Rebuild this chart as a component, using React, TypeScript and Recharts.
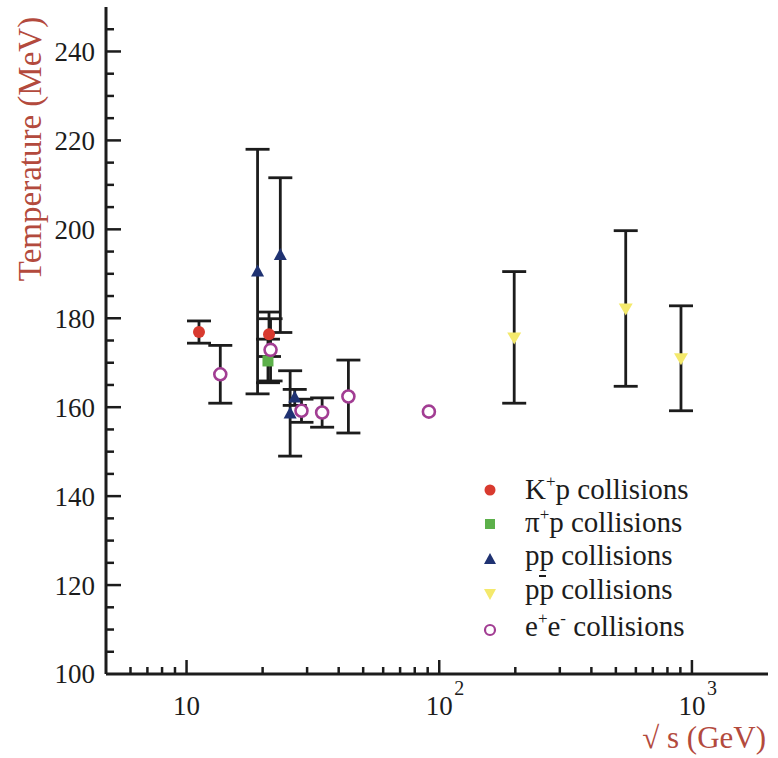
import React from 'react';
import { ScatterChart, Scatter, XAxis, YAxis, ErrorBar, Legend, Label } from 'recharts';

// Hadron-gas temperature fits vs. centre-of-mass energy (GeV)
const kpEnergy = [11.2, 21.2];
const kpTemp = [176.9, 176.4];
const kpErr = [2.5, 5.0];

const pipEnergy = [21.0];
const pipTemp = [170.4];
const pipErr = [4.9];

const ppEnergy = [19.1, 23.5, 25.7, 26.8];
const ppTemp = [190.5, 194.2, 158.6, 162.2];
const ppErr = [27.5, 17.4, 9.6, 1.8];

const ppbarEnergy = [198, 547, 905];
const ppbarTemp = [175.7, 182.2, 171.0];
const ppbarErr = [14.8, 17.5, 11.8];

const eeEnergy = [13.6, 21.5, 28.5, 34.4, 43.7, 91];
const eeTemp = [167.4, 172.9, 159.2, 158.8, 162.4, 159.0];
const eeErr = [6.5, 7.0, 2.6, 3.3, 8.2, 0];

const xTicks = [6, 7, 8, 9, 10, 20, 30, 40, 50, 60, 70, 80, 90, 100, 200, 300, 400, 500, 600, 700, 800, 900, 1000];
const xLabelValues = [10, 100, 1000];
const xLabelBase = ['10', '10', '10'];
const xLabelExp = ['', '2', '3'];

const yTicks = [100, 105, 110, 115, 120, 125, 130, 135, 140, 145, 150, 155, 160, 165, 170, 175, 180, 185, 190, 195, 200, 205, 210, 215, 220, 225, 230, 235, 240, 245];
const yLabelValues = [100, 120, 140, 160, 180, 200, 220, 240];

const legendNames = ['K+p collisions', 'π+p collisions', 'pp collisions', 'pp collisions', 'e+e- collisions'];

const SERIF = "'Liberation Serif', 'Times New Roman', serif";
const INK = '#1c1c1c';
const TITLE = '#b34a3d';
const RED = '#d83a2f';
const GREEN = '#5cb04a';
const BLUE = '#1f3272';
const YELLOW = '#f4e96c';
const MAGENTA = '#a23d93';

const toRows = (xs: number[], ys: number[], es: number[]) =>
  xs.map((x, i) => ({ x, y: ys[i], err: es[i] }));

const kpData = toRows(kpEnergy, kpTemp, kpErr);
const pipData = toRows(pipEnergy, pipTemp, pipErr);
const ppData = toRows(ppEnergy, ppTemp, ppErr);
const ppbarData = toRows(ppbarEnergy, ppbarTemp, ppbarErr);
const eeData = toRows(eeEnergy, eeTemp, eeErr);

const FilledCircle = (p: any) => <circle cx={p.cx} cy={p.cy} r={6} fill={RED} />;
const FilledSquare = (p: any) => <rect x={p.cx - 5.5} y={p.cy - 5.5} width={11} height={11} fill={GREEN} />;
const TriUp = (p: any) => (
  <polygon
    points={`${p.cx},${p.cy - 7} ${p.cx - 6.5},${p.cy + 5} ${p.cx + 6.5},${p.cy + 5}`}
    fill={BLUE}
  />
);
const TriDown = (p: any) => (
  <polygon
    points={`${p.cx - 7},${p.cy - 5} ${p.cx + 7},${p.cy - 5} ${p.cx},${p.cy + 7}`}
    fill={YELLOW}
  />
);
const OpenCircle = (p: any) => (
  <circle cx={p.cx} cy={p.cy} r={6} fill="#ffffff" stroke={MAGENTA} strokeWidth={2.6} />
);

const XTick = (props: any) => {
  const { x, y, payload } = props;
  const v = payload.value;
  const idx = xLabelValues.indexOf(v);
  const major = idx >= 0;
  return (
    <g>
      <line x1={x} x2={x} y1={y} y2={y - (major ? 14 : 7)} stroke={INK} strokeWidth={2.5} />
      {major && (
        <text x={x} y={y + 41} textAnchor="middle" fontFamily={SERIF} fontSize={27} fill={INK}>
          {xLabelBase[idx]}
        </text>
      )}
      {major && xLabelExp[idx] && (
        <text x={x + 15} y={y + 21} textAnchor="start" fontFamily={SERIF} fontSize={20} fill={INK}>
          {xLabelExp[idx]}
        </text>
      )}
    </g>
  );
};

const YTick = (props: any) => {
  const { x, y, payload } = props;
  const v = payload.value;
  const major = yLabelValues.includes(v);
  return (
    <g>
      {v > 100 && (
        <line x1={x} x2={x + (major ? 15 : 8)} y1={y} y2={y} stroke={INK} strokeWidth={2.5} />
      )}
      {major && (
        <text x={x - 11} y={y} dy="0.35em" textAnchor="end" fontFamily={SERIF} fontSize={27} fill={INK}>
          {v}
        </text>
      )}
    </g>
  );
};

const LegendBox = () => {
  const mx = 20;
  const tx = 55;
  const my = [20, 54, 89, 124, 160];
  const by = [29, 62, 95, 129, 166];
  const fs = 29;
  const sup = 17;
  const textProps = { fontFamily: SERIF, fontSize: fs, fill: INK };
  return (
    <svg width={300} height={180} style={{ overflow: 'visible' }}>
      <circle cx={mx} cy={my[0]} r={5.5} fill={RED} />
      <rect x={mx - 5} y={my[1] - 5} width={10} height={10} fill={GREEN} />
      <polygon points={`${mx},${my[2] - 6} ${mx - 6},${my[2] + 5} ${mx + 6},${my[2] + 5}`} fill={BLUE} />
      <polygon points={`${mx - 6},${my[3] - 5} ${mx + 6},${my[3] - 5} ${mx},${my[3] + 6}`} fill={YELLOW} />
      <circle cx={mx} cy={my[4]} r={5} fill="#ffffff" stroke={MAGENTA} strokeWidth={2.2} />

      <text x={tx} y={by[0]} {...textProps}>
        K<tspan dy={-12} fontSize={sup}>+</tspan>
        <tspan dy={12}>p collisions</tspan>
      </text>
      <text x={tx} y={by[1]} {...textProps}>
        π<tspan dy={-12} fontSize={sup}>+</tspan>
        <tspan dy={12}>p collisions</tspan>
      </text>
      <text x={tx} y={by[2]} {...textProps}>
        {legendNames[2]}
      </text>
      <line x1={tx + 14} x2={tx + 21} y1={by[2] + 11} y2={by[2] + 11} stroke={INK} strokeWidth={2} />
      <text x={tx} y={by[3]} {...textProps}>
        {legendNames[3]}
      </text>
      <text x={tx} y={by[4]} {...textProps}>
        e<tspan dy={-12} fontSize={sup}>+</tspan>
        <tspan dy={12}>e</tspan>
        <tspan dy={-12} fontSize={sup}>-</tspan>
        <tspan dy={12}> collisions</tspan>
      </text>
    </svg>
  );
};

export default function App() {
  return (
    <div style={{ position: 'absolute', left: 0, top: 0, width: 778, height: 758, background: '#ffffff' }}>
      <ScatterChart width={778} height={758} margin={{ top: 7, right: 10, left: 0, bottom: 0 }}>
        <XAxis
          dataKey="x"
          type="number"
          scale="log"
          domain={[4.8, 2000]}
          allowDataOverflow
          ticks={xTicks}
          interval={0}
          tick={<XTick />}
          tickLine={false}
          tickSize={0}
          tickMargin={0}
          height={84}
          axisLine={{ stroke: INK, strokeWidth: 3 }}
        >
          <Label
            content={() => (
              <text x={766} y={748} textAnchor="end" fontFamily={SERIF} fontSize={31} fill={TITLE}>
                √ s (GeV)
              </text>
            )}
          />
        </XAxis>
        <XAxis
          xAxisId="top"
          orientation="top"
          type="number"
          domain={[0, 1]}
          tick={false}
          tickLine={false}
          height={0}
          axisLine={{ stroke: INK, strokeWidth: 2.5 }}
        />
        <YAxis
          dataKey="y"
          type="number"
          domain={[100, 250]}
          allowDataOverflow
          ticks={yTicks}
          interval={0}
          tick={<YTick />}
          tickLine={false}
          tickSize={0}
          tickMargin={0}
          width={106}
          axisLine={{ stroke: INK, strokeWidth: 3 }}
        >
          <Label
            content={() => (
              <text
                transform="translate(41,149) rotate(-90)"
                textAnchor="middle"
                fontFamily={SERIF}
                fontSize={33}
                fill={TITLE}
              >
                Temperature (MeV)
              </text>
            )}
          />
        </YAxis>
        <YAxis
          yAxisId="right"
          orientation="right"
          type="number"
          domain={[0, 1]}
          tick={false}
          tickLine={false}
          width={0}
          axisLine={{ stroke: INK, strokeWidth: 2.5 }}
        />
        <Legend
          content={LegendBox}
          layout="vertical"
          align="center"
          verticalAlign="middle"
          wrapperStyle={{ position: 'absolute', left: 470, top: 470, width: 300, height: 180 }}
        />
        <Scatter name={legendNames[0]} data={kpData} shape={FilledCircle} isAnimationActive={false}>
          <ErrorBar dataKey="err" direction="y" width={12} stroke={INK} strokeWidth={2.8} isAnimationActive={false} />
        </Scatter>
        <Scatter name={legendNames[1]} data={pipData} shape={FilledSquare} isAnimationActive={false}>
          <ErrorBar dataKey="err" direction="y" width={12} stroke={INK} strokeWidth={2.8} isAnimationActive={false} />
        </Scatter>
        <Scatter name={legendNames[2]} data={ppData} shape={TriUp} isAnimationActive={false}>
          <ErrorBar dataKey="err" direction="y" width={12} stroke={INK} strokeWidth={2.8} isAnimationActive={false} />
        </Scatter>
        <Scatter name={legendNames[3]} data={ppbarData} shape={TriDown} isAnimationActive={false}>
          <ErrorBar dataKey="err" direction="y" width={12} stroke={INK} strokeWidth={2.8} isAnimationActive={false} />
        </Scatter>
        <Scatter name={legendNames[4]} data={eeData} shape={OpenCircle} isAnimationActive={false}>
          <ErrorBar dataKey="err" direction="y" width={12} stroke={INK} strokeWidth={2.8} isAnimationActive={false} />
        </Scatter>
      </ScatterChart>
    </div>
  );
}
